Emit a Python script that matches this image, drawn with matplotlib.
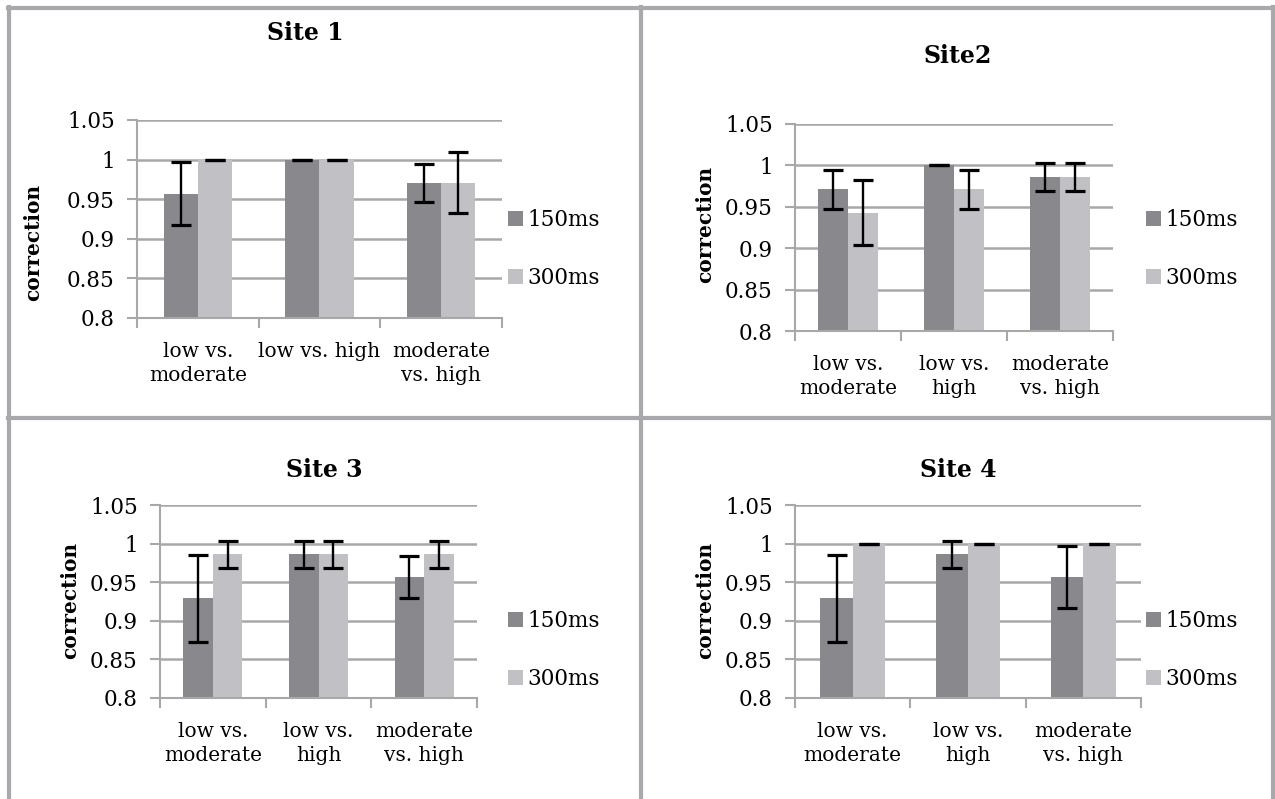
import numpy as np
import matplotlib.pyplot as plt
from matplotlib.lines import Line2D

plt.rcParams['font.family'] = ['DejaVu Serif']

W, H = 1275, 799

categories_2line = ['low vs.\nmoderate', 'low vs.\nhigh', 'moderate\nvs. high']
site1_categories = ['low vs.\nmoderate', 'low vs. high', 'moderate\nvs. high']
series_names = ['150ms', '300ms']
titles = ['Site 1', 'Site2', 'Site 3', 'Site 4']

# mean correction per comparison
site1_150 = [0.957, 1.0, 0.971]
site1_300 = [1.0, 1.0, 0.971]
site2_150 = [0.971, 1.0, 0.986]
site2_300 = [0.943, 0.971, 0.986]
site3_150 = [0.929, 0.986, 0.957]
site3_300 = [0.986, 0.986, 0.986]
site4_150 = [0.929, 0.986, 0.957]
site4_300 = [1.0, 1.0, 1.0]

# error bar half-widths
site1_150_err = [0.040, 0.0, 0.024]
site1_300_err = [0.0, 0.0, 0.038]
site2_150_err = [0.024, 0.0, 0.017]
site2_300_err = [0.039, 0.024, 0.017]
site3_150_err = [0.056, 0.017, 0.027]
site3_300_err = [0.017, 0.017, 0.017]
site4_150_err = [0.056, 0.017, 0.040]
site4_300_err = [0.0, 0.0, 0.0]

yticks = [0.8, 0.85, 0.9, 0.95, 1.0, 1.05]
ytick_labels = ['0.8', '0.85', '0.9', '0.95', '1', '1.05']

dark = '#89888d'
light = '#c1c0c5'
gridc = '#a8a8a8'
borderc = '#a9a9ad'

# panel layout in pixels: axes (x0, x1, ytop, ybot), title (x, y), ylabel (x, y), legend (x, y)
panels = [
    dict(ax=(137, 502, 120, 318), title=(305, 33), ylab=(33, 242), leg=(508, 249),
         data=(site1_150, site1_300, site1_150_err, site1_300_err), cats=site1_categories),
    dict(ax=(795, 1113, 124, 331), title=(958, 56), ylab=(705, 224), leg=(1146, 249),
         data=(site2_150, site2_300, site2_150_err, site2_300_err), cats=categories_2line),
    dict(ax=(160, 477, 505, 698), title=(324, 470), ylab=(70, 600), leg=(508, 650),
         data=(site3_150, site3_300, site3_150_err, site3_300_err), cats=categories_2line),
    dict(ax=(795, 1141, 505, 698), title=(958, 470), ylab=(705, 600), leg=(1146, 650),
         data=(site4_150, site4_300, site4_150_err, site4_300_err), cats=categories_2line),
]

fig = plt.figure(figsize=(W / 100, H / 100), dpi=100)

def fx(px):
    return px / W

def fy(py):
    return 1 - py / H

# panel borders
for seg in [((8, 1273), (7.5, 7.5)), ((8.5, 8.5), (7, 799)), ((1272.5, 1272.5), (7, 799)),
            ((641, 641), (7, 799)), ((8, 1273), (418, 418))]:
    fig.add_artist(Line2D([fx(seg[0][0]), fx(seg[0][1])], [fy(seg[1][0]), fy(seg[1][1])],
                          color=borderc, lw=3, transform=fig.transFigure))

x = np.arange(3)
bw = 0.28

for i, p in enumerate(panels):
    x0, x1, yt, yb = p['ax']
    ax = fig.add_axes([fx(x0), fy(yb), fx(x1 - x0), (yb - yt) / H])
    v150, v300, e150, e300 = p['data']
    b1 = ax.bar(x - bw / 2, v150, bw, color=dark, zorder=2, label=series_names[0])
    b2 = ax.bar(x + bw / 2, v300, bw, color=light, zorder=2, label=series_names[1])
    ax.errorbar(x - bw / 2, v150, yerr=e150, fmt='none', ecolor='black', elinewidth=1.7,
                capsize=7, capthick=2.3, zorder=3)
    ax.errorbar(x + bw / 2, v300, yerr=e300, fmt='none', ecolor='black', elinewidth=1.7,
                capsize=7, capthick=2.3, zorder=3)

    ax.set_ylim(0.8, 1.05)
    ax.set_xlim(-0.5, 2.5)
    ax.set_yticks(yticks)
    ax.set_yticklabels(ytick_labels, fontsize=15.5)
    ax.yaxis.grid(True, color=gridc, lw=1.8, zorder=0)
    ax.set_axisbelow(True)
    ax.set_xticks(x)
    ax.set_xticklabels(p['cats'], fontsize=14.5, linespacing=1.35)
    ax.set_xticks([-0.5, 0.5, 1.5, 2.5], minor=True)
    ax.tick_params(axis='x', which='major', length=0, pad=17)
    ax.tick_params(axis='x', which='minor', length=7, width=1.5, color=gridc, direction='out')
    ax.tick_params(axis='y', length=7, width=1.5, color=gridc, direction='out', pad=9)
    for s in ['top', 'right']:
        ax.spines[s].set_visible(False)
    for s in ['left', 'bottom']:
        ax.spines[s].set_color(gridc)
        ax.spines[s].set_linewidth(1.5)

    fig.text(fx(p['title'][0]), fy(p['title'][1]), titles[i], ha='center', va='center',
             fontsize=17, fontweight='bold')
    fig.text(fx(p['ylab'][0]), fy(p['ylab'][1]), 'correction', ha='center', va='center',
             rotation=90, fontsize=14.5, fontweight='bold')
    fig.legend(handles=[b1, b2], loc='center left',
               bbox_to_anchor=(fx(p['leg'][0]), fy(p['leg'][1])),
               frameon=False, fontsize=15.5, handlelength=0.7, handleheight=0.7,
               handletextpad=0.2, labelspacing=1.65, borderpad=0, borderaxespad=0)

fig.savefig('out.png', dpi=100)
